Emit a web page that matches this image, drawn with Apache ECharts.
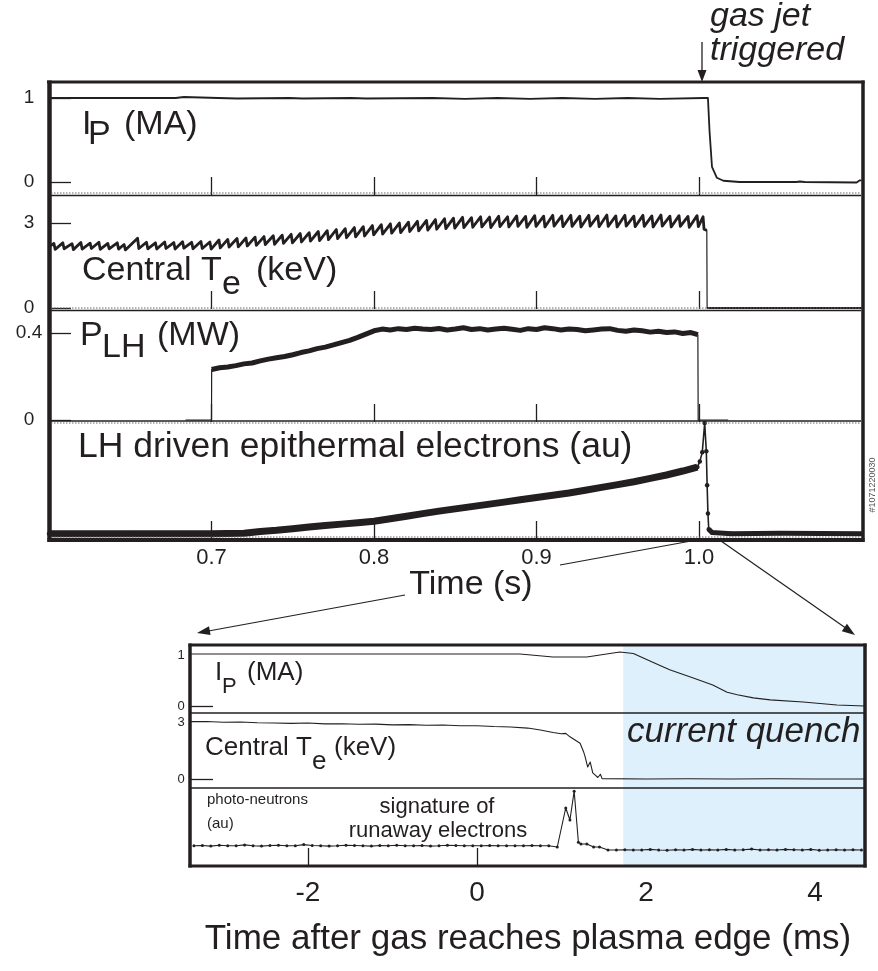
<!DOCTYPE html>
<html><head><meta charset="utf-8">
<script src="https://cdn.jsdelivr.net/npm/echarts@6/dist/echarts.min.js"></script>
<style>html,body{margin:0;padding:0;background:#fff}#c{width:878px;height:971px}</style>
</head><body><div id="c"></div>
<script>
const FONT = '"Liberation Sans", Arial, Helvetica, sans-serif';
const INK = '#231f20';

// ---------- main figure (time in s) ----------
const mainTicks = [0.7, 0.8, 0.9, 1.0];
const ipTickValues = [0, 1];
const teTickValues = [0, 3];
const plhTickValues = [0, 0.4];

// plasma current (MA): [time, value]
const ipMain = [[0.600,1.0],[0.678,1.0],[0.679,1.012],[0.683,1.012],[0.684,1.0],[0.704,1.0],[0.705,0.994],[0.716,0.994],[0.717,1.0],
 [0.748,1.0],[0.749,0.994],[0.756,0.994],[0.757,1.0],[0.786,1.0],[0.787,0.994],[0.795,0.994],[0.796,1.0],[0.836,1.0],[0.837,0.99],
 [0.856,0.99],[0.857,1.0],[0.876,1.0],[0.877,0.99],[0.896,0.99],[0.897,1.0],[0.916,1.0],[0.917,0.99],[0.936,0.99],[0.937,1.0],
 [0.956,1.0],[0.957,0.99],[0.976,0.99],[0.977,1.0],[1.003,1.0],[1.004,1.02],[1.0055,1.0],[1.0065,0.6],[1.008,0.18],[1.011,0.05],
 [1.015,0.015],[1.025,0.0],[1.060,0.0],[1.062,0.006],[1.065,0.0],[1.097,-0.006],[1.099,0.02],[1.100,0.02]];

// central Te sawteeth: [crash time, peak keV, trough keV]
const teTeeth = [[0.6030,2.28,2.07],[0.6085,2.30,2.09],[0.6142,2.27,2.06],[0.6196,2.31,2.08],[0.6253,2.29,2.10],[0.6307,2.32,2.07],
 [0.6362,2.28,2.09],[0.6420,2.30,2.08],[0.6462,2.24,2.05],[0.6545,2.46,2.10],[0.6600,2.32,2.09],[0.6655,2.30,2.08],[0.6712,2.33,2.10],
 [0.6768,2.31,2.08],[0.6822,2.34,2.11],[0.6878,2.32,2.09],[0.6935,2.35,2.10],[0.6990,2.33,2.08],[0.7046,2.40,2.12],[0.7100,2.42,2.15],
 [0.7157,2.45,2.16],[0.7212,2.47,2.19],[0.7268,2.50,2.21],[0.7323,2.52,2.24],[0.7380,2.55,2.25],[0.7435,2.57,2.28],[0.7490,2.60,2.30],
 [0.7546,2.63,2.33],[0.7601,2.66,2.36],[0.7657,2.70,2.38],[0.7712,2.73,2.41],[0.7768,2.77,2.45],[0.7823,2.80,2.48],[0.7879,2.84,2.51],
 [0.7934,2.87,2.54],[0.7990,2.91,2.58],[0.8045,2.94,2.61],[0.8101,2.97,2.64],[0.8156,3.00,2.66],[0.8212,3.03,2.70],[0.8267,3.06,2.72],
 [0.8323,3.09,2.75],[0.8378,3.12,2.78],[0.8434,3.15,2.80],[0.8489,3.17,2.82],[0.8545,3.20,2.84],[0.8600,3.19,2.85],[0.8656,3.22,2.86],
 [0.8711,3.21,2.84],[0.8767,3.24,2.87],[0.8822,3.22,2.86],[0.8878,3.25,2.88],[0.8933,3.23,2.85],[0.8989,3.26,2.88],[0.9044,3.24,2.86],
 [0.9100,3.27,2.89],[0.9155,3.25,2.87],[0.9211,3.27,2.88],[0.9266,3.24,2.86],[0.9322,3.27,2.89],[0.9377,3.25,2.87],[0.9433,3.28,2.88],
 [0.9488,3.25,2.86],[0.9544,3.27,2.89],[0.9599,3.24,2.87],[0.9655,3.27,2.88],[0.9710,3.25,2.86],[0.9766,3.28,2.89],[0.9821,3.24,2.86],
 [0.9877,3.26,2.88],[0.9932,3.23,2.85],[0.9988,3.26,2.87]];
const teStart = [[0.600, 2.16]];
const teEnd = [[1.0025,3.22],[1.0031,2.78],[1.0048,2.74],[1.0050,0.0],[1.100,0.0]];

// lower hybrid power (MW)
const plhMain = [[0.684,0],[0.700,0],[0.7001,0.232],[0.705,0.240],[0.710,0.244],[0.715,0.250],[0.720,0.258],[0.725,0.262],[0.730,0.272],
 [0.735,0.280],[0.740,0.286],[0.745,0.292],[0.750,0.300],[0.755,0.310],[0.760,0.318],[0.765,0.328],[0.770,0.335],[0.775,0.345],
 [0.780,0.356],[0.785,0.366],[0.790,0.380],[0.795,0.395],[0.800,0.410],[0.805,0.418],[0.810,0.414],[0.815,0.420],[0.820,0.416],
 [0.825,0.422],[0.830,0.418],[0.835,0.416],[0.840,0.421],[0.845,0.414],[0.850,0.418],[0.855,0.424],[0.860,0.416],[0.865,0.420],
 [0.870,0.414],[0.875,0.418],[0.880,0.422],[0.885,0.417],[0.890,0.412],[0.895,0.420],[0.900,0.416],[0.905,0.424],[0.910,0.420],
 [0.915,0.414],[0.920,0.418],[0.925,0.416],[0.930,0.410],[0.935,0.414],[0.940,0.418],[0.945,0.420],[0.950,0.412],[0.955,0.408],
 [0.960,0.414],[0.965,0.410],[0.970,0.404],[0.975,0.408],[0.980,0.402],[0.985,0.405],[0.990,0.398],[0.995,0.402],[0.9993,0.392],
 [0.9995,0.0],[1.018,0.0]];

// LH driven epithermal electrons (au)
const epiMain = [[0.600,0.02],[0.650,0.02],[0.700,0.02],[0.720,0.025],[0.730,0.04],[0.740,0.05],[0.750,0.065],[0.760,0.08],[0.770,0.092],
 [0.780,0.105],[0.790,0.117],[0.800,0.13],[0.810,0.152],[0.820,0.175],[0.830,0.198],[0.840,0.22],[0.850,0.24],[0.860,0.26],[0.870,0.28],
 [0.880,0.30],[0.890,0.32],[0.900,0.34],[0.910,0.36],[0.920,0.38],[0.930,0.405],[0.940,0.43],[0.950,0.455],[0.960,0.48],[0.970,0.51],
 [0.980,0.54],[0.990,0.575],[0.999,0.61],[1.0005,0.66],[1.002,0.74],[1.0035,1.0],[1.0045,0.75],[1.005,0.45],[1.0055,0.2],[1.006,0.06],
 [1.008,0.03],[1.020,0.02],[1.050,0.025],[1.100,0.02]];

// ---------- inset (time after gas reaches plasma edge, ms) ----------
const insetTicks = [-2, 0, 2, 4];
const quenchStart = 1.73;
const ipInset = [[-3.40,1.02],[-1.0,1.02],[0.51,1.02],[0.90,0.96],[1.30,0.96],[1.69,1.06],[1.85,1.03],[2.08,0.86],[2.28,0.71],[2.56,0.55],
 [2.79,0.41],[2.96,0.27],[3.08,0.22],[3.27,0.16],[3.47,0.12],[3.86,0.08],[4.26,0.02],[4.59,0.0]];
const teInset = [[-3.40,3.02],[-3.2,3.03],[-3.0,2.99],[-2.8,3.0],[-2.6,2.96],[-2.4,2.95],[-2.2,2.93],[-2.0,2.95],[-1.8,2.90],[-1.6,2.91],
 [-1.4,2.88],[-1.2,2.89],[-1.0,2.85],[-0.8,2.86],[-0.6,2.83],[-0.4,2.84],[-0.2,2.80],[0.0,2.80],[0.2,2.76],[0.4,2.74],[0.6,2.68],
 [0.75,2.58],[0.9,2.45],[1.0,2.38],[1.05,2.40],[1.1,2.22],[1.16,2.05],[1.22,1.88],[1.26,1.45],[1.28,1.16],[1.31,0.63],[1.34,0.89],
 [1.37,0.32],[1.40,0.20],[1.43,0.08],[1.46,0.25],[1.48,0.02],[1.50,0.0],[2.0,0.0],[2.5,0.01],[3.0,0.0],[3.5,0.01],[4.0,0.0],[4.59,0.0]];
const pnInset = [[-3.35,0.07],[-3.25,0.075],[-3.15,0.065],[-3.05,0.08],[-2.95,0.07],[-2.85,0.07],[-2.75,0.085],[-2.65,0.07],[-2.55,0.065],
 [-2.45,0.075],[-2.35,0.08],[-2.25,0.07],[-2.15,0.07],[-2.05,0.09],[-1.95,0.075],[-1.85,0.07],[-1.75,0.065],[-1.65,0.07],[-1.55,0.08],
 [-1.45,0.075],[-1.35,0.07],[-1.25,0.065],[-1.15,0.075],[-1.05,0.07],[-0.95,0.08],[-0.85,0.07],[-0.75,0.07],[-0.65,0.075],[-0.55,0.065],
 [-0.45,0.07],[-0.35,0.08],[-0.25,0.075],[-0.15,0.07],[-0.05,0.07],[0.05,0.07],[0.15,0.075],[0.25,0.07],[0.35,0.07],[0.45,0.07],
 [0.55,0.07],[0.65,0.075],[0.75,0.07],[0.85,0.07],[0.95,0.05],[1.05,0.70],[1.10,0.50],[1.15,0.98],[1.20,0.13],[1.23,0.10],[1.30,0.10],
 [1.38,0.05],[1.45,0.05],[1.55,0.0],[1.65,0.0],[1.75,0.005],[1.85,0.0],[1.95,0.0],[2.05,0.01],[2.15,0.0],[2.25,-0.005],[2.35,0.005],
 [2.45,0.0],[2.55,0.01],[2.65,0.0],[2.75,0.005],[2.85,0.0],[2.95,0.01],[3.05,0.0],[3.15,0.005],[3.25,0.015],[3.35,0.0],[3.45,0.005],
 [3.55,0.0],[3.65,0.01],[3.75,0.005],[3.85,0.0],[3.95,0.01],[4.05,-0.005],[4.15,0.0],[4.25,0.005],[4.35,0.0],[4.45,0.005],[4.55,0.0]];

// ---------- build ----------
const teMain = teStart.slice();
teTeeth.forEach(r => { teMain.push([r[0], r[1]]); teMain.push([r[0] + 0.0008, r[2]]); });
teEnd.forEach(p => teMain.push(p));
const teSawPart = teMain.filter(p => p[0] < 1.0049);
const teZeroPart = teMain.filter(p => p[0] >= 1.0050);
const plhBand = plhMain.filter(p => p[0] > 0.7 && p[0] < 0.9994);
const epiBand = epiMain.filter(p => p[0] <= 0.999);
const epiTail = epiMain.filter(p => p[0] >= 1.006);

const chart = echarts.init(document.getElementById('c'), null, {renderer: 'canvas'});

const grids = [
  {left: 49, top: 82, width: 812.5, height: 113},
  {left: 49, top: 195, width: 812.5, height: 114},
  {left: 49, top: 309, width: 812.5, height: 113},
  {left: 49, top: 422, width: 812.5, height: 117},
  {left: 190, top: 645, width: 675, height: 68},
  {left: 190, top: 713, width: 675, height: 75},
  {left: 190, top: 788, width: 675, height: 78}
];

function mainX(i) {
  return {gridIndex: i, type: 'value', min: 0.6, max: 1.1, axisLine: {show: false, onZero: false}, splitLine: {show: false},
    axisTick: {show: true, inside: true, length: 18, customValues: mainTicks, lineStyle: {color: INK, width: 1.3}},
    axisLabel: i === 3 ? {show: true, customValues: mainTicks, formatter: v => v.toFixed(1), fontSize: 22, fontFamily: FONT, color: INK, margin: 8}
                       : {show: false}};
}
function insetX(i, withTicks) {
  return {gridIndex: i, type: 'value', min: -3.3964, max: 4.5917, axisLine: {show: false, onZero: false}, splitLine: {show: false},
    axisTick: {show: withTicks, inside: true, length: 18, customValues: insetTicks, lineStyle: {color: INK, width: 1.3}},
    axisLabel: withTicks ? {show: true, customValues: insetTicks, formatter: v => String(v), fontSize: 28, fontFamily: FONT, color: INK, margin: 13}
                         : {show: false}};
}
function yAx(i, min, max, ticks, fs, margin, tickLen) {
  return {gridIndex: i, type: 'value', min: min, max: max, axisLine: {show: false, onZero: false}, splitLine: {show: false},
    axisTick: ticks ? {show: true, inside: true, length: tickLen, customValues: ticks, lineStyle: {color: INK, width: 1.3}} : {show: false},
    axisLabel: ticks ? {show: true, customValues: ticks, fontSize: fs, fontFamily: FONT, color: INK, margin: margin, align: 'center'} : {show: false}};
}

const quenchArea = {silent: true, itemStyle: {color: '#ddf0fb'}, data: [[{xAxis: quenchStart}, {xAxis: 4.5917}]]};
function line(xi, data, w, extra) {
  return Object.assign({type: 'line', xAxisIndex: xi, yAxisIndex: xi, data: data, showSymbol: false, silent: true,
    animation: false, lineStyle: {color: INK, width: w, join: 'round'}, itemStyle: {color: INK}}, extra || {});
}

function L(x1, y1, x2, y2, w, extra) {
  return {type: 'line', silent: true, z: 100, shape: {x1: x1, y1: y1, x2: x2, y2: y2},
    style: Object.assign({stroke: INK, lineWidth: w}, extra || {})};
}
function T(text, x, y, size, opt) {
  opt = opt || {};
  const font = (opt.italic ? 'italic ' : '') + size + 'px ' + FONT;
  return {type: 'text', silent: true, z: 100, x: x, y: y, rotation: opt.rot || 0,
    style: {text: text, font: font, fill: opt.fill || INK, textAlign: opt.align || 'left', align: opt.align || 'left',
      textVerticalAlign: 'middle', verticalAlign: 'middle'}};
}
function TB(text, x, base, size, opt) { return T(text, x, base - 0.35 * size, size, opt); }
function arrowHead(x1, y1, x2, y2, len, half) {
  const dx = x2 - x1, dy = y2 - y1, d = Math.hypot(dx, dy), ux = dx / d, uy = dy / d;
  const bx = x2 - ux * len, by = y2 - uy * len;
  return {type: 'polygon', silent: true, z: 100,
    shape: {points: [[x2, y2], [bx - uy * half, by + ux * half], [bx + uy * half, by - ux * half]]}, style: {fill: INK}};
}
const dotted = {stroke: '#666', lineDash: [1.5, 1.5]};

const graphics = [
  // main frame
  L(47, 82, 864.5, 82, 3), L(49.5, 80.5, 49.5, 542, 4.5), L(863, 80.5, 863, 542, 3.5), L(47.5, 540, 864.5, 540, 4),
  L(51, 193, 861, 193, 1, dotted), L(51, 195.5, 861, 195.5, 1.5),
  L(51, 308, 861, 308, 1, dotted), L(51, 310.5, 861, 310.5, 1.5),
  L(51, 421, 861, 421, 1.5), L(51, 423, 861, 423, 1, dotted),
  L(51, 537, 861, 537, 1, dotted),
  // inset frame
  L(188.5, 645, 866.5, 645, 3), L(190, 643.5, 190, 867.5, 3.5), L(865, 643.5, 865, 867.5, 3.5), L(188.5, 866, 866.5, 866, 3),
  L(190, 713, 865, 713, 1.5), L(190, 788, 865, 788, 1.5),
  // main labels
  TB('I', 82, 137, 34), TB('P', 88, 147, 34), TB('(MA)', 124, 137, 34),
  TB('Central T', 82, 283, 34), TB('e', 222, 297, 34), TB('(keV)', 256, 283, 34),
  TB('P', 80, 348, 34), TB('LH', 102, 360, 34), TB('(MW)', 157, 348, 34),
  TB('LH driven epithermal electrons (au)', 78, 460, 35.5),
  TB('Time (s)', 471, 597, 34, {align: 'center'}),
  TB('gas jet', 710, 28, 34, {italic: true}), TB('triggered', 710, 62, 34, {italic: true}),
  T('#1071220030', 873, 485, 9, {rot: Math.PI / 2, align: 'center', fill: '#555'}),
  // inset labels
  TB('I', 215, 682, 26), TB('P', 222, 695, 22), TB('(MA)', 247, 682, 26),
  TB('Central T', 205, 757, 26), TB('e', 312, 771, 26), TB('(keV)', 334, 757, 26),
  TB('current quench', 627, 745, 35, {italic: true}),
  TB('photo-neutrons', 207, 805, 15), TB('(au)', 207, 829, 15),
  TB('signature of', 437, 815, 22, {align: 'center'}), TB('runaway electrons', 438, 839, 22, {align: 'center'}),
  TB('Time after gas reaches plasma edge (ms)', 528, 952, 35, {align: 'center'}),
  // arrows
  L(702, 42, 702, 72, 1.3), arrowHead(702, 42, 702, 82, 12, 4.5),
  L(702, 539, 560, 565, 1.2), L(405, 595, 203, 632, 1.2), arrowHead(405, 595, 197, 633, 13, 4.5),
  L(721, 541, 850, 631, 1.2), arrowHead(721, 541, 855, 635, 13, 4.5)
];

const option = {
  backgroundColor: '#ffffff',
  animation: false,
  grid: grids,
  xAxis: [mainX(0), mainX(1), mainX(2), mainX(3), insetX(4, false), insetX(5, false), insetX(6, true)],
  yAxis: [
    yAx(0, -0.1548, 1.1905, ipTickValues, 19, 20, 22),
    yAx(1, -0.0353, 3.988, teTickValues, 19, 20, 22),
    yAx(2, -0.0092, 0.5103, plhTickValues, 19, 20, 22),
    yAx(3, -0.0266, 1.0088, null),
    {gridIndex: 4, type: 'value', min: -0.137, max: 1.196, axisLine: {show: false, onZero: false}, splitLine: {show: false},
      axisTick: {show: true, inside: true, length: 23, customValues: [0], lineStyle: {color: INK, width: 1.3}},
      axisLabel: {show: true, customValues: [0, 1], fontSize: 13, fontFamily: FONT, color: INK, margin: 9, align: 'center'}},
    {gridIndex: 5, type: 'value', min: -0.4737, max: 3.4737, axisLine: {show: false, onZero: false}, splitLine: {show: false},
      axisTick: {show: true, inside: true, length: 23, customValues: [0], lineStyle: {color: INK, width: 1.3}},
      axisLabel: {show: true, customValues: [0, 3], fontSize: 13, fontFamily: FONT, color: INK, margin: 9, align: 'center'}},
    yAx(6, -0.2667, 1.0333, null)
  ],
  graphic: graphics,
  series: [
    line(0, ipMain, 1.8),
    line(1, teMain, 1.2),
    line(1, teSawPart, 2.8),
    line(1, teZeroPart, 2.2),
    line(2, plhMain, 1.2),
    line(2, plhBand, 5),
    line(3, epiMain, 1.6, {showSymbol: true, symbol: 'circle', symbolSize: 4.5}),
    line(3, epiBand, 7),
    line(3, epiTail, 5),
    line(4, ipInset, 1.1, {markArea: quenchArea}),
    line(5, teInset, 1.1, {markArea: quenchArea}),
    line(6, pnInset, 1.1, {showSymbol: true, symbol: 'circle', symbolSize: 3, markArea: quenchArea})
  ]
};
chart.setOption(option);
</script></body></html>
